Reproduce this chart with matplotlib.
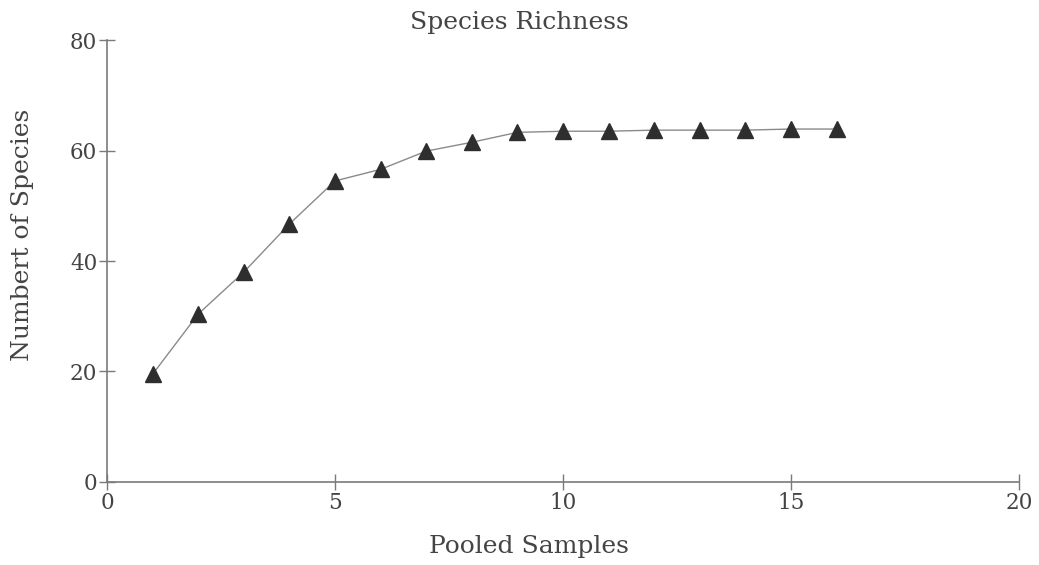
import matplotlib
matplotlib.use("Agg")
import matplotlib.pyplot as plt

# pooled sample count vs. cumulative species found
samples = [1, 2, 3, 4, 5, 6, 7, 8, 9, 10, 11, 12, 13, 14, 15, 16]
species = [19.5, 30.4, 38.0, 46.7, 54.5, 56.6, 59.9, 61.5, 63.3, 63.5,
           63.5, 63.7, 63.7, 63.7, 63.9, 63.9]

xticks = [0, 5, 10, 15, 20]
yticks = [0, 20, 40, 60, 80]

plt.rcParams["font.family"] = ["DejaVu Serif"]
text_color = "#444444"
axis_color = "#7a7a7a"

fig = plt.figure(figsize=(10.39, 5.65), dpi=100)
ax = fig.add_axes([0.103, 0.147, 0.8777, 0.782])

ax.plot(samples, species, color="#8a8a8a", linewidth=1.0, zorder=2)
ax.plot(samples, species, linestyle="none", marker="^", markersize=11,
        color="#2e2e2e", zorder=3)

ax.set_xlim(0, 20)
ax.set_ylim(0, 80)
ax.set_xticks(xticks)
ax.set_yticks(yticks)
ax.tick_params(direction="inout", length=12, width=1, color=axis_color,
               labelcolor=text_color, labelsize=15.5, pad=1)
for side in ("top", "right"):
    ax.spines[side].set_visible(False)
for side in ("left", "bottom"):
    ax.spines[side].set_color(axis_color)
    ax.spines[side].set_linewidth(1.2)

fig.text(0.4995, 0.961, "Species Richness", ha="center", va="center",
         fontsize=18, color=text_color)
fig.text(0.509, 0.032, "Pooled Samples", ha="center", va="center",
         fontsize=18, color=text_color)
fig.text(0.022, 0.584, "Numbert of Species", ha="center", va="center",
         rotation=90, fontsize=18, color=text_color)

fig.savefig("out.png", dpi=100)
